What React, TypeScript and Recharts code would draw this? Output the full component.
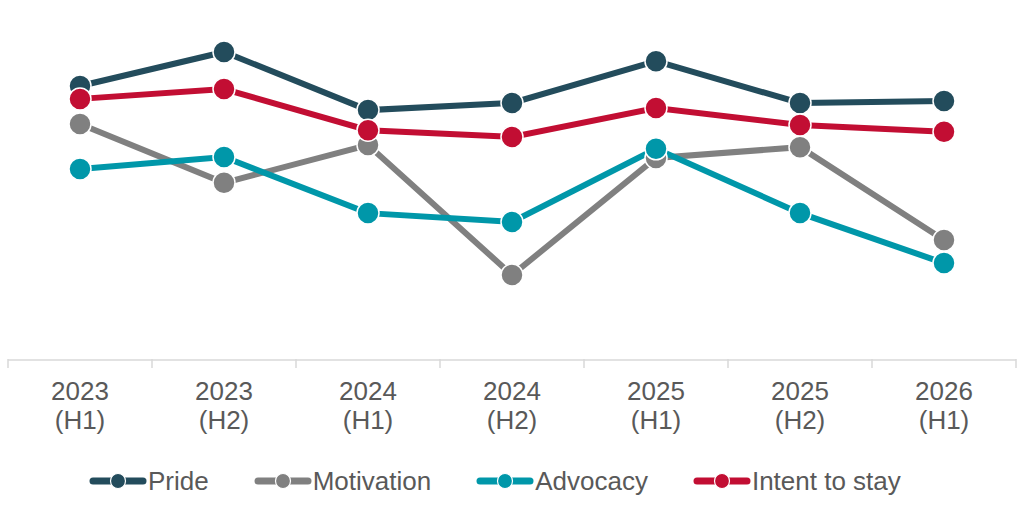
import { LineChart, Line, XAxis, YAxis } from 'recharts';

const years = ['2023', '2023', '2024', '2024', '2025', '2025', '2026'];
const halves = ['(H1)', '(H2)', '(H1)', '(H2)', '(H1)', '(H2)', '(H1)'];

const pride = [80.6, 90.6, 73.5, 75.6, 87.9, 75.6, 76.2];
const motivation = [69.4, 52.1, 63.2, 25.0, 59.4, 62.6, 35.3];
const advocacy = [56.2, 59.7, 43.2, 40.6, 62.1, 43.2, 28.5];
const intentToStay = [76.8, 79.7, 67.6, 65.6, 74.1, 69.1, 67.1];

const series = [
  { key: 'pride', name: 'Pride', color: '#234c5c' },
  { key: 'motivation', name: 'Motivation', color: '#808080' },
  { key: 'advocacy', name: 'Advocacy', color: '#0097a9' },
  { key: 'intent', name: 'Intent to stay', color: '#c20e33' },
];

const data = years.map((year, i) => ({
  label: `${year} ${halves[i]}`,
  year,
  half: halves[i],
  pride: pride[i],
  motivation: motivation[i],
  advocacy: advocacy[i],
  intent: intentToStay[i],
}));

const W = 1024;
const H = 514;
const LEFT = 8;
const RIGHT = 8;
const BAND = (W - LEFT - RIGHT) / data.length;

function Tick(props: any) {
  const { x, y, payload, index } = props;
  const i = payload.index ?? index;
  const d = data[i];
  const last = i === data.length - 1;
  return (
    <g>
      <line x1={x - BAND / 2} x2={x - BAND / 2} y1={y - 9} y2={y} stroke="#d9d9d9" strokeWidth={1.5} />
      {last && <line x1={x + BAND / 2} x2={x + BAND / 2} y1={y - 9} y2={y} stroke="#d9d9d9" strokeWidth={1.5} />}
      <text x={x} y={y + 32} textAnchor="middle" fill="#595959" fontSize={26}>
        {d.year}
      </text>
      <text x={x} y={y + 61} textAnchor="middle" fill="#595959" fontSize={26}>
        {d.half}
      </text>
    </g>
  );
}

function ChartLegend() {
  return (
    <div
      style={{
        position: 'absolute',
        left: 89,
        top: 466,
        display: 'flex',
        gap: 45,
        fontSize: 26,
        lineHeight: '30px',
        color: '#595959',
        whiteSpace: 'nowrap',
      }}
    >
      {series.map((s) => (
        <div key={s.key} style={{ display: 'flex', alignItems: 'center' }}>
          <svg width={58} height={20}>
            <line x1={4} x2={54} y1={10} y2={10} stroke={s.color} strokeWidth={7} strokeLinecap="round" />
            <circle cx={29} cy={10} r={7.5} fill={s.color} stroke="#fff" strokeWidth={1.2} />
          </svg>
          <span style={{ marginLeft: 1 }}>{s.name}</span>
        </div>
      ))}
    </div>
  );
}

export default function App() {
  return (
    <div style={{ position: 'absolute', left: 0, top: 0, width: W, height: H, fontFamily: 'Liberation Sans, Arial, sans-serif' }}>
      <LineChart width={W} height={H} data={data} margin={{ top: 20, right: RIGHT, left: LEFT, bottom: 74 }}>
        <XAxis
          dataKey="label"
          padding={{ left: BAND / 2, right: BAND / 2 }}
          axisLine={{ stroke: '#d9d9d9', strokeWidth: 1.5 }}
          tickLine={false}
          tick={<Tick />}
          interval={0}
          height={80}
        />
        <YAxis hide domain={[0, 100]} />
        {series.map((s) => (
          <Line
            key={s.key}
            dataKey={s.key}
            name={s.name}
            stroke={s.color}
            strokeWidth={6}
            dot={{ r: 11, fill: s.color, stroke: '#fff', strokeWidth: 1.5 }}
            activeDot={false}
            isAnimationActive={false}
          />
        ))}
      </LineChart>
      <ChartLegend />
    </div>
  );
}
